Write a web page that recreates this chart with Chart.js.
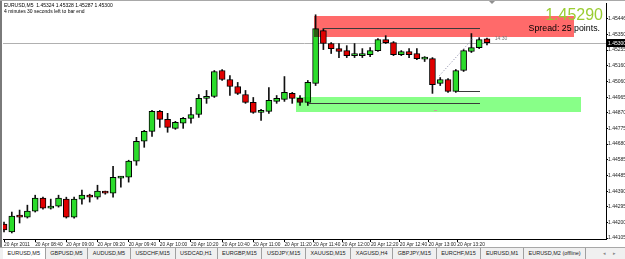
<!DOCTYPE html>
<html>
<head>
<meta charset="utf-8">
<script src="https://cdn.jsdelivr.net/npm/chart.js@4.4.1/dist/chart.umd.min.js"></script>
<style>
html, body { margin: 0; padding: 0; background: #fff; width: 625px; height: 259px; overflow: hidden; font-family: "Liberation Sans", Arial, sans-serif; }
#wrap { position: relative; width: 625px; height: 247px; }
#tabs { position: absolute; left: 0; top: 247px; width: 625px; height: 12px; background: #f0f0f0; border-top: 1px solid #a8a8a8; box-sizing: border-box; display: flex; padding-left: 3px; }
.tab { height: 11px; line-height: 11px; font-size: 5.5px; color: #222; padding: 0 4.6px; border-right: 1px solid #a0a0a0; white-space: nowrap; }
.tab.active { background: #fff; }
#arrows { position: absolute; right: 6px; top: 0; font-size: 5px; line-height: 10px; color: #888; letter-spacing: 3px; }
</style>
</head>
<body>
<div id="wrap"><canvas id="c" width="625" height="247"></canvas></div>
<div id="tabs"><span id="arrows">◂ ▸</span></div>
<script>
// EURUSD M5 candles
const opens  = [1.44190,1.44142,1.44245,1.44233,1.44270,1.44349,1.44288,1.44300,1.44343,1.44233,
                1.44343,1.44367,1.44355,1.44386,1.44380,1.44471,1.44477,1.44575,1.44697,1.44758,
                1.44880,1.44831,1.44776,1.44807,1.44837,1.44861,1.44959,1.44971,1.45130,1.45075,
                1.45032,1.44983,1.44935,1.44874,1.44880,1.44941,1.44953,1.44990,1.44959,1.44935,
                1.45051,1.45374,1.45295,1.45264,1.45252,1.45221,1.45221,1.45227,1.45252,1.45319,
                1.45301,1.45227,1.45246,1.45234,1.45200,1.45203,1.45051,1.45075,1.45002,1.45130,
                1.45246,1.45270,1.45324];
const highs  = [1.44203,1.44264,1.44276,1.44306,1.44367,1.44355,1.44343,1.44367,1.44355,1.44355,
                1.44398,1.44373,1.44428,1.44392,1.44544,1.44483,1.44581,1.44721,1.44764,1.44886,
                1.44886,1.44868,1.44819,1.44843,1.44904,1.44983,1.45008,1.45130,1.45136,1.45099,
                1.45057,1.45008,1.44965,1.44892,1.45026,1.44977,1.45093,1.44996,1.44977,1.45069,
                1.45471,1.45386,1.45301,1.45295,1.45282,1.45295,1.45264,1.45270,1.45325,1.45343,
                1.45307,1.45252,1.45264,1.45264,1.45215,1.45209,1.45087,1.45081,1.45136,1.45258,
                1.45356,1.45331,1.45328];
const lows   = [1.44142,1.44136,1.44197,1.44227,1.44264,1.44282,1.44282,1.44294,1.44227,1.44227,
                1.44312,1.44325,1.44343,1.44373,1.44355,1.44416,1.44447,1.44550,1.44660,1.44727,
                1.44782,1.44752,1.44770,1.44776,1.44807,1.44843,1.44929,1.44965,1.45069,1.44977,
                1.44983,1.44929,1.44868,1.44825,1.44868,1.44929,1.44941,1.44929,1.44916,1.44916,
                1.45038,1.45258,1.45234,1.45209,1.45209,1.45209,1.45209,1.45215,1.45246,1.45295,
                1.45221,1.45221,1.45209,1.45197,1.45185,1.44990,1.45038,1.44996,1.44996,1.45124,
                1.45240,1.45264,1.45287];
const closes = [1.44154,1.44239,1.44233,1.44270,1.44349,1.44288,1.44300,1.44349,1.44233,1.44343,
                1.44367,1.44355,1.44392,1.44380,1.44477,1.44477,1.44575,1.44697,1.44758,1.44880,
                1.44831,1.44782,1.44813,1.44837,1.44861,1.44959,1.44965,1.45124,1.45075,1.45032,
                1.44990,1.44935,1.44874,1.44886,1.44947,1.44959,1.44996,1.44959,1.44935,1.45057,
                1.45386,1.45295,1.45264,1.45246,1.45221,1.45222,1.45234,1.45252,1.45319,1.45301,
                1.45227,1.45246,1.45227,1.45203,1.45203,1.45044,1.45075,1.45002,1.45130,1.45252,
                1.45270,1.45319,1.45300];

const timeTickIdx = [0,4,8,12,16,20,24,28,32,36,39.7,43.4,47.1,50.8,54.5,58.2];
const timeLabels = ['20 Apr 2011','20 Apr 08:40','20 Apr 09:00','20 Apr 09:20','20 Apr 09:40','20 Apr 10:00',
                    '20 Apr 10:20','20 Apr 10:40','20 Apr 11:00','20 Apr 11:20','20 Apr 11:40','20 Apr 12:00',
                    '20 Apr 12:20','20 Apr 12:40','20 Apr 13:00','20 Apr 13:20'];
const priceTicks = [1.44105,1.44200,1.44295,1.44390,1.44485,1.44585,1.44680,1.44775,
                    1.44870,1.44965,1.45060,1.45160,1.45255,1.45350,1.45446];

const tabNames = ['EURUSD,M5','GBPUSD,M5','AUDUSD,M5','USDCHF,M15','USDCAD,H1','EURGBP,M15','USDJPY,M15',
                  'XAUUSD,M15','XAGUSD,H4','GBPJPY,M15','EURCHF,M15','EURUSD,M1','EURUSD,M2 (offline)'];

// chart objects (index / price coordinates)
const bid = 1.45300;
const zones = [
  { from: 39.8, to: 73.2, hi: 1.45465, lo: 1.45337, color: '#ff6a6a' },
  { from: 37.5, to: 74.1, hi: 1.44965, lo: 1.44874, color: '#88ff88' }
];
const levels = [
  { from: 40.9, to: 61.1, price: 1.45392 },
  { from: 39.0, to: 61.1, price: 1.44929 },
  { from: 58.2, to: 61.1, price: 1.45002 }
];
const trend = [[55.9, 1.45099], [60.3, 1.45331]];

const UP = '#2bdc2b', DOWN = '#e00000';
const FONT = '"Liberation Sans", Arial, sans-serif';

const wickData = highs.map((h, i) => ({ x: i, y: [lows[i], h] }));
const bodyData = opens.map((o, i) => ({ x: i, y: [o, closes[i]] }));
const bodyColors = opens.map((o, i) => closes[i] >= o ? UP : DOWN);

// tabs
const tabsEl = document.getElementById('tabs');
tabNames.forEach((n, i) => {
  const s = document.createElement('span');
  s.className = 'tab' + (i === 0 ? ' active' : '');
  s.textContent = n;
  tabsEl.appendChild(s);
});

const overlay = {
  id: 'overlay',
  beforeDatasetsDraw(chart) {
    const { ctx, chartArea: a, scales: { y } } = chart;
    const py = Math.round(y.getPixelForValue(bid)) + 0.5;
    ctx.save();
    ctx.strokeStyle = '#b0b0b0';
    ctx.lineWidth = 1;
    ctx.beginPath(); ctx.moveTo(a.left, py); ctx.lineTo(a.right, py); ctx.stroke();
    ctx.restore();
  },
  afterDatasetsDraw(chart) {
    const { ctx, scales: { x, y } } = chart;
    ctx.save();
    ctx.globalCompositeOperation = 'multiply';
    zones.forEach(z => {
      const x0 = Math.round(x.getPixelForValue(z.from)), x1 = Math.round(x.getPixelForValue(z.to));
      const y0 = Math.round(y.getPixelForValue(z.hi)), y1 = Math.round(y.getPixelForValue(z.lo));
      ctx.fillStyle = z.color;
      ctx.fillRect(x0, y0, x1 - x0, y1 - y0);
    });
    ctx.globalCompositeOperation = 'source-over';
    ctx.strokeStyle = '#3a3a3a';
    ctx.lineWidth = 1;
    levels.forEach(l => {
      const py = Math.round(y.getPixelForValue(l.price)) + 0.5;
      ctx.beginPath();
      ctx.moveTo(Math.round(x.getPixelForValue(l.from)), py);
      ctx.lineTo(Math.round(x.getPixelForValue(l.to)), py);
      ctx.stroke();
    });
    ctx.strokeStyle = '#8080a0';
    ctx.setLineDash([1, 2]);
    ctx.beginPath();
    ctx.moveTo(x.getPixelForValue(trend[0][0]), y.getPixelForValue(trend[0][1]));
    ctx.lineTo(x.getPixelForValue(trend[1][0]), y.getPixelForValue(trend[1][1]));
    ctx.stroke();
    ctx.setLineDash([]);
    // little object marks
    ctx.fillStyle = '#777';
    ctx.font = '5px ' + FONT;
    ctx.textBaseline = 'middle';
    ctx.fillText('14:30', x.getPixelForValue(63), y.getPixelForValue(1.45325));
    ctx.fillStyle = '#c8a0a0';
    ctx.fillRect(Math.round(x.getPixelForValue(55.2)), Math.round(y.getPixelForValue(1.44880)) - 1, 3, 1);
    ctx.restore();
  },
  afterDraw(chart) {
    const { ctx, chartArea: a, scales: { x, y } } = chart;
    ctx.save();
    // window frame
    ctx.fillStyle = '#7a7a7a';
    ctx.fillRect(0, 0, 2, chart.height);
    ctx.fillStyle = '#a8a8a8';
    ctx.fillRect(0, 0, chart.width, 1);
    // chart shift marker
    const sx = Math.round(x.getPixelForValue(62.7));
    ctx.fillStyle = '#909090';
    ctx.beginPath(); ctx.moveTo(sx - 3, 1); ctx.lineTo(sx + 3, 1); ctx.lineTo(sx, 4); ctx.closePath(); ctx.fill();
    // header text
    ctx.fillStyle = '#000';
    ctx.font = '5px ' + FONT;
    ctx.textBaseline = 'alphabetic';
    ctx.textAlign = 'left';
    ctx.fillText('EURUSD,M5  1.45324 1.45328 1.45287 1.45300', 4, 7);
    ctx.fillText('4 minutes 30 seconds left to bar end', 4, 13);
    // big bid + spread
    ctx.textAlign = 'right';
    ctx.fillStyle = '#9acd32';
    ctx.font = '16px ' + FONT;
    ctx.fillText('1.45290', 603, 20);
    ctx.fillStyle = '#000';
    ctx.font = '8.8px ' + FONT;
    ctx.fillText('Spread: 25 points.', 600, 31);
    // bid label on the price axis
    const py = Math.round(y.getPixelForValue(bid));
    ctx.fillStyle = '#000';
    ctx.fillRect(a.right + 1, py - 4, chart.width - a.right - 1, 8);
    ctx.fillStyle = '#fff';
    ctx.textAlign = 'left';
    ctx.textBaseline = 'middle';
    ctx.font = '5px ' + FONT;
    ctx.fillText(bid.toFixed(5), a.right + 2, py + 0.5);
    ctx.restore();
  }
};

new Chart(document.getElementById('c').getContext('2d'), {
  type: 'bar',
  data: {
    datasets: [
      { label: 'wick', data: wickData, backgroundColor: '#111', barThickness: 1, grouped: false, order: 2 },
      { label: 'body', data: bodyData, backgroundColor: bodyColors, borderColor: '#000', borderWidth: 1,
        borderSkipped: false, barThickness: 6, minBarLength: 2, grouped: false, order: 1 }
    ]
  },
  options: {
    responsive: false,
    animation: false,
    events: [],
    layout: { padding: { left: 3, top: 2, right: 0, bottom: 0 } },
    plugins: { legend: { display: false }, tooltip: { enabled: false } },
    scales: {
      x: {
        type: 'linear', min: -0.13, max: 77.28, offset: false,
        grid: { drawOnChartArea: false, drawTicks: true, tickLength: 3, color: '#000', offset: false },
        border: { color: '#000' },
        afterBuildTicks: a => { a.ticks = timeTickIdx.map(v => ({ value: v })); },
        afterFit: a => { a.height = 8; },
        ticks: { align: 'start', autoSkip: false, maxRotation: 0, padding: 0, color: '#222',
                 font: { size: 4.8, family: FONT }, callback: (v, i) => timeLabels[i] }
      },
      y: {
        position: 'right', min: 1.44099, max: 1.45543,
        grid: { drawOnChartArea: false, drawTicks: true, tickLength: 2, color: '#000' },
        border: { color: '#000' },
        afterBuildTicks: a => { a.ticks = priceTicks.map(v => ({ value: v })); },
        afterFit: a => { a.width = 19; },
        ticks: { padding: 0, color: '#222', font: { size: 5, family: FONT }, callback: v => v.toFixed(5) }
      }
    }
  },
  plugins: [overlay]
});
</script>
</body>
</html>
